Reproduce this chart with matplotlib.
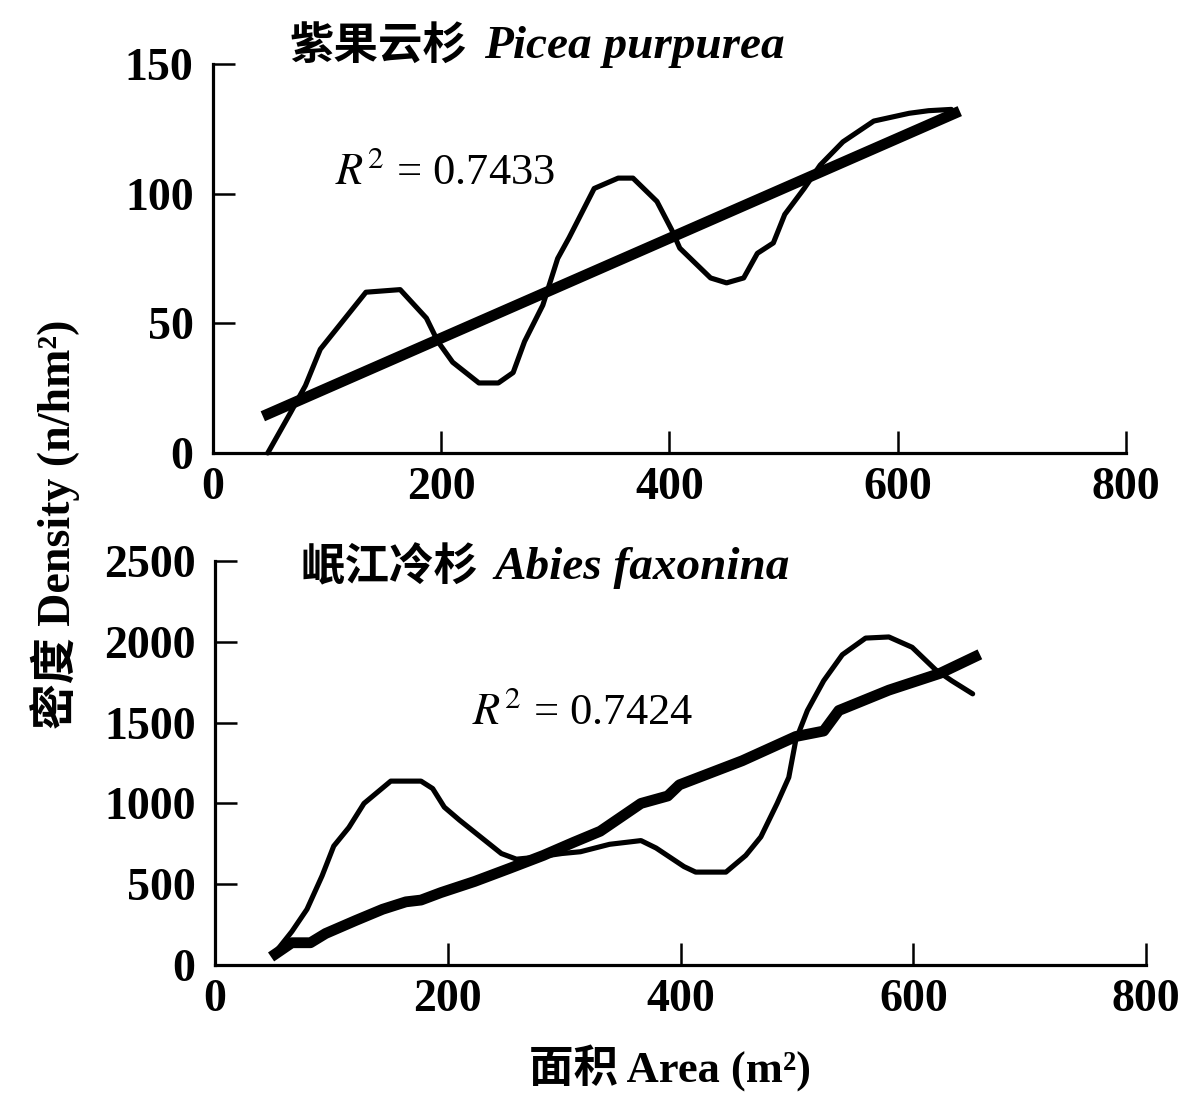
import numpy as np
import matplotlib
matplotlib.use("Agg")
import matplotlib.pyplot as plt

plt.rcParams['font.family'] = ['Liberation Serif', 'Noto Sans CJK SC']
plt.rcParams['mathtext.fontset'] = 'stix'

# 紫果云杉 Picea purpurea
pp_area = [48, 68, 81, 94, 114, 134, 164, 187, 197, 210, 233, 250, 263, 273, 289, 302, 312,
           334, 355, 368, 389, 402, 409, 436, 450, 465, 477, 491, 501, 518, 532, 552, 579,
           610, 627, 647]
pp_density = [0, 15.6, 26, 40, 51, 62, 63, 52, 43, 35, 27, 27, 31, 43, 57, 75, 83,
              102, 106, 106, 97, 86, 79, 67.5, 65.6, 67.5, 77, 81, 92, 102, 111, 120, 128,
              131, 132, 132.5]
pp_fit_area = [48, 650]
pp_fit_density = [15, 131]

# 岷江冷杉 Abies faxonina
af_area = [52, 66, 79, 92, 102, 115, 128, 151, 177, 187, 197, 210, 230, 246, 259, 276, 298,
           314, 339, 366, 379, 403, 413, 439, 456, 469, 483, 493, 499, 509, 523, 539, 559,
           579, 599, 619, 633, 651]
af_density = [80, 207, 345, 552, 736, 851, 1000, 1138, 1138, 1092, 977, 897, 782, 690, 655,
              667, 690, 701, 747, 770, 724, 609, 575, 575, 678, 793, 1000, 1161, 1391, 1575,
              1759, 1920, 2023, 2030, 1966, 1828, 1759, 1678]
af_fit_area = [52, 66, 82, 95, 121, 144, 164, 177, 194, 223, 253, 282, 308, 331, 366, 389,
               399, 453, 499, 523, 536, 579, 623, 653]
af_fit_density = [69, 138, 138, 195, 276, 345, 391, 402, 448, 517, 598, 678, 759, 828, 1000,
                  1046, 1115, 1264, 1414, 1448, 1575, 1701, 1805, 1908]

x_ticks = [0, 200, 400, 600, 800]
pp_yticks = [0, 50, 100, 150]
af_yticks = [0, 500, 1000, 1500, 2000, 2500]

fig = plt.figure(figsize=(11.88, 11.0), dpi=100)
ax1 = fig.add_axes([0.1793, 0.5882, 0.7685, 0.3536])
ax2 = fig.add_axes([0.1810, 0.1227, 0.7837, 0.3673])

def style(ax, yticks, ymax):
    ax.set_xlim(0, 800)
    ax.set_ylim(0, ymax)
    ax.set_xticks(x_ticks)
    ax.set_yticks(yticks)
    for s in ['top', 'right']:
        ax.spines[s].set_visible(False)
    for s in ['left', 'bottom']:
        ax.spines[s].set_linewidth(2.3)
    ax.tick_params(axis='both', direction='in', length=16, width=1.8,
                   labelsize=33, colors='black')
    ax.tick_params(axis='x', pad=10)
    ax.tick_params(axis='y', pad=14)
    for lab in ax.get_xticklabels() + ax.get_yticklabels():
        lab.set_fontweight('bold')

ax1.plot(pp_area, pp_density, color='black', lw=3.7, solid_capstyle='round',
         solid_joinstyle='round', clip_on=False)
ax1.plot(pp_fit_area, pp_fit_density, color='black', lw=7.8, clip_on=False)
style(ax1, pp_yticks, 150)

ax2.plot(af_area, af_density, color='black', lw=3.7, solid_capstyle='round',
         solid_joinstyle='round', clip_on=False)
ax2.plot(af_fit_area, af_fit_density, color='black', lw=7.8, clip_on=False)
style(ax2, af_yticks, 2500)

# titles: Chinese name + Latin name
fig.text(290 / 1188, 1 - 47 / 1100, "紫果云杉", fontsize=32, fontweight='bold',
         va='center', ha='left')
fig.text(484 / 1188, 1 - 47 / 1100, "Picea purpurea", fontsize=34, fontweight='bold',
         fontstyle='italic', va='center', ha='left')
fig.text(300 / 1188, 1 - 568 / 1100, "岷江冷杉", fontsize=32, fontweight='bold',
         va='center', ha='left')
fig.text(494 / 1188, 1 - 568 / 1100, "Abies faxonina", fontsize=34, fontweight='bold',
         fontstyle='italic', va='center', ha='left')

fig.text(335 / 1188, 1 - 172 / 1100, r"$R^2$ = 0.7433", fontsize=32, va='center', ha='left')
fig.text(472 / 1188, 1 - 713 / 1100, r"$R^2$ = 0.7424", fontsize=32, va='center', ha='left')

fig.text(55 / 1188, 1 - 524 / 1100, "密度 Density (n/hm²)", fontsize=33, fontweight='bold',
         rotation=90, va='center', ha='center')
fig.text(670 / 1188, 1 - 1068 / 1100, "面积 Area (m²)", fontsize=32, fontweight='bold',
         va='center', ha='center')

fig.savefig("out.png", dpi=100)
